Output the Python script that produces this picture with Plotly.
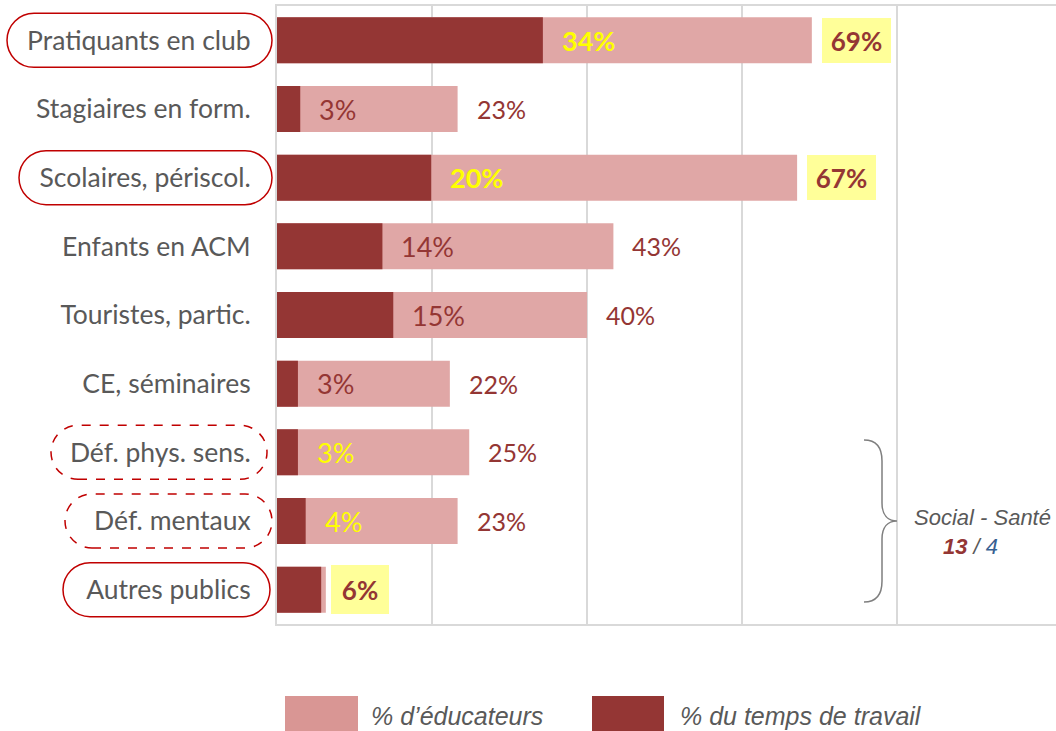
import plotly.graph_objects as go

# ---------------- data ----------------
categories = ["Pratiquants en club", "Stagiaires en form.", "Scolaires, périscol.",
              "Enfants en ACM", "Touristes, partic.", "CE, séminaires",
              "Déf. phys. sens.", "Déf. mentaux", "Autres publics"]
educateurs = [69.0, 23.3, 67.1, 43.4, 40.0, 22.3, 24.8, 23.3, 6.3]
temps_travail = [34.3, 3.0, 19.9, 13.6, 15.0, 2.7, 2.7, 3.7, 5.7]
labels_educ = ["69%", "23%", "67%", "43%", "40%", "22%", "25%", "23%", "6%"]
labels_temps = ["34%", "3%", "20%", "14%", "15%", "3%", "3%", "4%", ""]
series_names = ["% d’éducateurs", "% du temps de travail"]
group_title = "Social - Santé"
group_counts = ["13", "4"]
x_ticks = [0, 20, 40, 60, 80]

# ---------------- styles ----------------
LIGHT = "#E0A7A6"
LIGHT_SW = "#D99694"
DARK = "#943634"
GRID = "#D9D9D9"
TXT = "#595959"
YEL = "#FFFF00"
YEL_BG = "#FFFF99"
LAB_FONT = "Lato"

W, H = 1056, 731
ML, MR, MT, MB = 277, 0, 6, 107
PW = W - ML - MR
PH = H - MT - MB
X_MAX = 100.5

fig = go.Figure()
fig.add_trace(go.Bar(y=categories, x=educateurs, orientation="h", name=series_names[0],
                     marker=dict(color=LIGHT, line=dict(width=0)), showlegend=False,
                     hoverinfo="x+y"))
fig.add_trace(go.Bar(y=categories, x=temps_travail, orientation="h", name=series_names[1],
                     marker=dict(color=DARK, line=dict(width=0)), showlegend=False,
                     hoverinfo="x+y"))

annotations = []
# inside labels (temps de travail) placed just after the dark bar
yellow_inside = {0: True, 2: True, 6: False, 7: False}  # index -> bold
for i, (v, t) in enumerate(zip(temps_travail, labels_temps)):
    if not t:
        continue
    if i in yellow_inside:
        txt = f"<b>{t}</b>" if yellow_inside[i] else t
        col = YEL
    else:
        txt, col = t, DARK
    annotations.append(dict(x=v, y=i, xref="x", yref="y", text=txt, showarrow=False,
                            xanchor="left", yanchor="middle", xshift=17,
                            font=dict(family=LAB_FONT, size=27, color=col)))

# outside labels (éducateurs)
highlight = {0: (10, 69, 45), 2: (10, 69, 45), 8: (5, 58, 49)}
for i, (v, t) in enumerate(zip(educateurs, labels_educ)):
    if i in highlight:
        sh, bw, bh = highlight[i]
        annotations.append(dict(x=v, y=i, xref="x", yref="y", text=f"<b>{t}</b>",
                                showarrow=False, xanchor="left", yanchor="middle",
                                xshift=sh, width=bw, height=bh, align="center",
                                bgcolor=YEL_BG, borderwidth=0, borderpad=0,
                                font=dict(family=LAB_FONT, size=26, color=DARK)))
    else:
        annotations.append(dict(x=v, y=i, xref="x", yref="y", text=t, showarrow=False,
                                xanchor="left", yanchor="middle", xshift=17,
                                font=dict(family=LAB_FONT, size=25, color=DARK)))

shapes = []


def stadium(x0, x1, h=27):
    r = h
    k = 0.5523 * r
    return (f"M {x0 + r},{-h} L {x1 - r},{-h} "
            f"C {x1 - r + k},{-h} {x1},{-k} {x1},0 "
            f"C {x1},{k} {x1 - r + k},{h} {x1 - r},{h} "
            f"L {x0 + r},{h} "
            f"C {x0 + r - k},{h} {x0},{k} {x0},0 "
            f"C {x0},{-k} {x0 + r - k},{-h} {x0 + r},{-h} Z")


# outlined category labels: index -> (left px, right px, dash)
outlines = {0: (-270, -5, "solid"), 2: (-258, -5, "solid"), 6: (-226, -10, "dash"),
            7: (-212, -5, "dash"), 8: (-214, -7, "solid")}
for i, (a, b, d) in outlines.items():
    shapes.append(dict(type="path", xref="paper", yref="y", xsizemode="pixel",
                       ysizemode="pixel", xanchor=0, yanchor=i, path=stadium(a, b),
                       line=dict(color="#C00000", width=1.5, dash=d),
                       fillcolor="rgba(0,0,0,0)", layer="above"))

# curly brace for the Social - Santé group
brace = ("M 587,-81 C 600,-81 605,-72 605,-60 L 605,-18 C 605,-6 611,0 620,0 "
         "C 611,0 605,6 605,18 L 605,60 C 605,72 600,81 587,81")
shapes.append(dict(type="path", xref="paper", yref="y", xsizemode="pixel",
                   ysizemode="pixel", xanchor=0, yanchor=7, path=brace,
                   line=dict(color="#7F7F7F", width=1.5), fillcolor="rgba(0,0,0,0)"))


def px_x(p):
    return (p - ML) / PW


def px_y(p):
    return (MT + PH - p) / PH


annotations.append(dict(x=px_x(912), y=px_y(517), xref="paper", yref="paper",
                        text=f"<i>{group_title}</i>", showarrow=False, xanchor="left",
                        yanchor="middle",
                        font=dict(family="Liberation Sans", size=22, color=TXT)))
annotations.append(dict(x=px_x(941), y=px_y(546), xref="paper", yref="paper",
                        text=(f"<b><i><span style='color:{DARK}'>{group_counts[0]}</span></i></b>"
                              f"<i> / </i><i><span style='color:#376092'>{group_counts[1]}</span></i>"),
                        showarrow=False, xanchor="left", yanchor="middle",
                        font=dict(family="Liberation Sans", size=22, color=TXT)))

# custom legend
for (sx0, sx1, tx, col, name) in [(285, 358, 369, LIGHT_SW, series_names[0]),
                                  (592, 664, 678, DARK, series_names[1])]:
    shapes.append(dict(type="rect", xref="paper", yref="paper",
                       x0=px_x(sx0), x1=px_x(sx1), y0=px_y(696), y1=px_y(731),
                       fillcolor=col, line=dict(width=0)))
    annotations.append(dict(x=px_x(tx), y=px_y(716), xref="paper", yref="paper",
                            text=f"<i>{name}</i>", showarrow=False, xanchor="left",
                            yanchor="middle",
                            font=dict(family="Liberation Sans", size=25, color=TXT)))

fig.update_layout(
    width=W, height=H,
    margin=dict(l=ML, r=MR, t=MT, b=MB, pad=0),
    barmode="overlay", bargap=0.33,
    plot_bgcolor="white", paper_bgcolor="white",
    showlegend=False,
    annotations=annotations, shapes=shapes,
    xaxis=dict(range=[0, X_MAX], tickvals=x_ticks, showticklabels=False,
               showgrid=True, gridcolor=GRID, gridwidth=2,
               showline=True, linecolor=GRID, linewidth=2, mirror=True,
               zeroline=False, fixedrange=True),
    yaxis=dict(autorange="reversed", showline=True, linecolor=GRID, linewidth=2,
               showgrid=False, ticks="", ticklabelstandoff=19,
               tickfont=dict(family=LAB_FONT, size=26.5, color=TXT), fixedrange=True),
)

fig.write_html("out.html", config={"displayModeBar": False},
               post_script="document.body.style.margin='0';document.body.style.overflow='hidden';")
